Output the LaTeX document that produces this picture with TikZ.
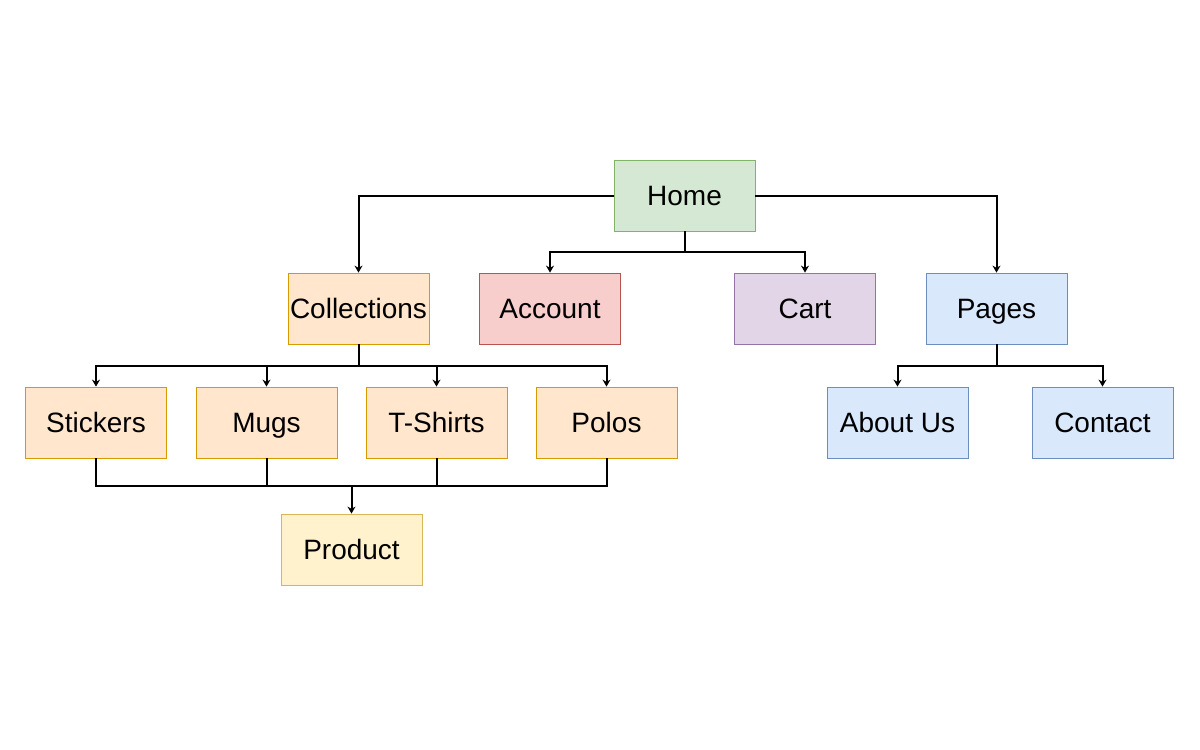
\documentclass[tikz,border=0pt]{standalone}
\usepackage{fontspec}
\setmainfont{Liberation Sans}
\usetikzlibrary{arrows.meta}
\newlength{\du}
\setlength{\du}{0.75pt}
\definecolor{greenfill}{rgb}{0.835294, 0.909804, 0.831373}
\definecolor{greenline}{rgb}{0.509804, 0.701961, 0.400000}
\definecolor{orangefill}{rgb}{1.000000, 0.901961, 0.800000}
\definecolor{orangeline}{rgb}{0.843137, 0.607843, 0.000000}
\definecolor{redfill}{rgb}{0.972549, 0.807843, 0.800000}
\definecolor{redline}{rgb}{0.721569, 0.329412, 0.313725}
\definecolor{purplefill}{rgb}{0.882353, 0.835294, 0.905882}
\definecolor{purpleline}{rgb}{0.588235, 0.450980, 0.650980}
\definecolor{bluefill}{rgb}{0.854902, 0.909804, 0.988235}
\definecolor{blueline}{rgb}{0.423529, 0.556863, 0.749020}
\definecolor{yellowfill}{rgb}{1.000000, 0.949020, 0.800000}
\definecolor{yellowline}{rgb}{0.839216, 0.713725, 0.337255}
\tikzset{
  pagebox/.style={draw, line width=0.8\du, minimum width=141\du, minimum height=71\du,
    inner sep=0pt, text height=15pt, text depth=0pt,
    font=\fontsize{21}{25}\selectfont, text=black},
  link/.style={line width=2\du, -{Stealth[length=5.25pt,width=6pt]}},
  thinlink/.style={line width=1.1\du, -{Stealth[length=5.25pt,width=6pt]}},
  joint/.style={line width=2\du}
}
\begin{document}
\begin{tikzpicture}
\pgftransformyscale{-1.000000}
\useasboundingbox (0\du,0\du) rectangle (1200\du,750\du);
% top level
\node[pagebox, fill=greenfill, draw=greenline] (home) at (684.5\du,195.5\du){Home};
\node[pagebox, fill=orangefill, draw=orangeline] (collections) at (358.5\du,308.5\du){Collections};
\node[pagebox, fill=redfill, draw=redline] (account) at (550.0\du,308.5\du){Account};
\node[pagebox, fill=purplefill, draw=purpleline] (cart) at (805.0\du,308.5\du){Cart};
\node[pagebox, fill=bluefill, draw=blueline] (pages) at (996.5\du,308.5\du){Pages};
% collections
\node[pagebox, fill=orangefill, draw=orangeline] (stickers) at (96.0\du,422.5\du){Stickers};
\node[pagebox, fill=orangefill, draw=orangeline] (mugs) at (266.5\du,422.5\du){Mugs};
\node[pagebox, fill=orangefill, draw=orangeline] (tshirts) at (436.5\du,422.5\du){T-Shirts};
\node[pagebox, fill=orangefill, draw=orangeline] (polos) at (606.5\du,422.5\du){Polos};
\node[pagebox, fill=yellowfill, draw=yellowline] (product) at (351.5\du,549.5\du){Product};
% pages
\node[pagebox, fill=bluefill, draw=blueline] (about) at (897.5\du,422.5\du){About Us};
\node[pagebox, fill=bluefill, draw=blueline] (contact) at (1102.5\du,422.5\du){Contact};
% branch points
\coordinate (homefork) at (684.5\du,252.0\du);
\coordinate (colfork) at (358.5\du,366.0\du);
\coordinate (prodfork) at (351.5\du,486.0\du);
\coordinate (pagesfork) at (996.5\du,366.0\du);
% was here!!!
\draw[link] (home.west) -| (collections.north);
\draw[link] (home.east) -| (pages.north);
\draw[joint] (home.south) -- (homefork);
\draw[thinlink] (homefork) -| (account.north);
\draw[thinlink] (homefork) -| (cart.north);
\draw[joint] (collections.south) -- (colfork);
\foreach \kid in {stickers,mugs,tshirts,polos}
  \draw[link] (colfork) -| (\kid.north);
\foreach \kid in {stickers,mugs,tshirts,polos}
  \draw[joint] (\kid.south) |- (prodfork);
\draw[link] (prodfork) -- (product.north);
\draw[joint] (pages.south) -- (pagesfork);
\draw[link] (pagesfork) -| (about.north);
\draw[link] (pagesfork) -| (contact.north);
\end{tikzpicture}
\end{document}
